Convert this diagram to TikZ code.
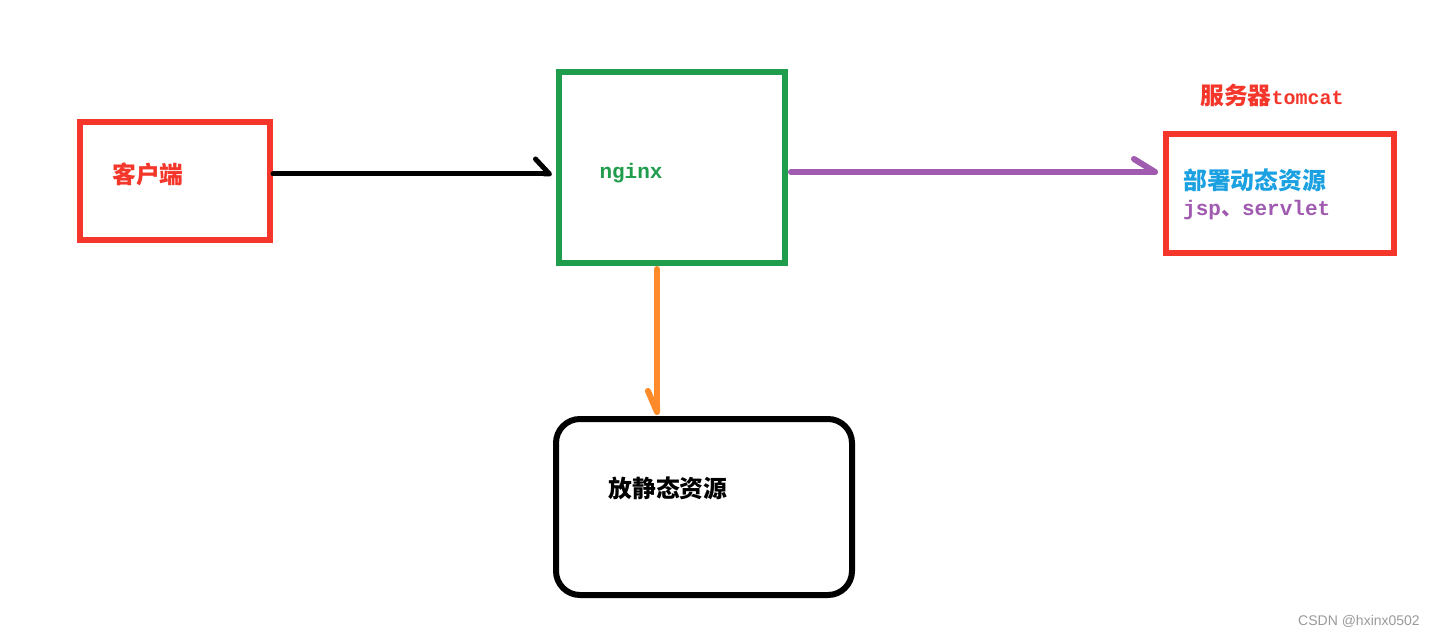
\documentclass[tikz,border=0pt]{standalone}
\usepackage{fontspec}
\usepackage{xcolor}
\usepackage{tikz}
\usetikzlibrary{positioning, arrows.meta, calc}
\newfontfamily\cjk{Noto Sans CJK SC}
\newfontfamily\mono{Liberation Mono}
\setsansfont{Liberation Sans}
\definecolor{boxred}{HTML}{F4362B}
\definecolor{nginxgreen}{HTML}{1F9D4C}
\definecolor{linkpurple}{HTML}{A05BB0}
\definecolor{linkorange}{HTML}{FF8A2A}
\definecolor{dynblue}{HTML}{1BA1E2}
\definecolor{marlgray}{HTML}{9A9A9A}

\tikzset{
  box/.style={draw, line width=6pt, inner sep=0pt},
  cjklabel/.style={inner sep=0pt, font=\cjk\bfseries\fontsize{23.8}{28}\selectfont},
  monolabel/.style={inner sep=0pt, font=\mono\bfseries\fontsize{21}{24}\selectfont},
  link/.style={line width=5pt, line cap=round},
}

\begin{document}
\begin{tikzpicture}[x=1pt, y=-1pt]
  \useasboundingbox[fill=white] (0,0) rectangle (1434,636);

  % boxes
  \node[box, draw=boxred, minimum width=190pt, minimum height=118pt] (client) at (175,181) {};
  \node[box, draw=nginxgreen, minimum width=226pt, minimum height=191pt] (nginx) at (672,167.5) {};
  \node[box, draw=boxred, minimum width=228pt, minimum height=119pt] (tomcat) at (1280,193.5) {};
  \node[box, draw=black, rounded corners=24pt, minimum width=296pt, minimum height=176pt] (static) at (704,507) {};

  % texts
  \node[cjklabel, text=boxred] (clientlabel) at (148,174) {客户端};
  \node[monolabel, text=nginxgreen] (nginxlabel) at (631,173) {nginx};
  \node[cjklabel, text=boxred, anchor=west] (tomcatlabel) at (1200,95) {服务器{\mono\bfseries\fontsize{20}{24}\selectfont tomcat}};
  \node[cjklabel, text=dynblue, anchor=west] (dynlabel) at (1183,180) {部署动态资源};
  \node[monolabel, text=linkpurple, anchor=west] (jsplabel) at (1183,210) {jsp{\cjk 、}servlet};
  \node[cjklabel, text=black] (staticlabel) at (668,488) {放静态资源};
  \node[anchor=east, inner sep=0pt, text=marlgray, font=\sffamily\fontsize{14}{16}\selectfont] (mark) at (1420,621) {CSDN @hxinx0502};

  % links
  \coordinate (c1) at ([yshift=7pt]client.east);
  \coordinate (c2) at ([xshift=3pt, yshift=-4.5pt]nginx.east);
  \coordinate (c3) at ([xshift=-15pt, yshift=-3pt]nginx.south);
  \draw[link, black, -{Straight Barb[left, round, length=14pt, width=30pt]}]
    (c1) -- ([xshift=-4pt]c1 -| nginx.west);
  \draw[link, linkpurple, line width=6pt, -{Straight Barb[left, round, length=21pt, width=26pt]}]
    (c2) -- ([xshift=-5pt]c2 -| tomcat.west);
  \draw[link, linkorange, line width=6pt, -{Straight Barb[right, round, length=21pt, width=18pt]}]
    (c3) -- ([yshift=1pt]c3 |- static.north);
\end{tikzpicture}
\end{document}
